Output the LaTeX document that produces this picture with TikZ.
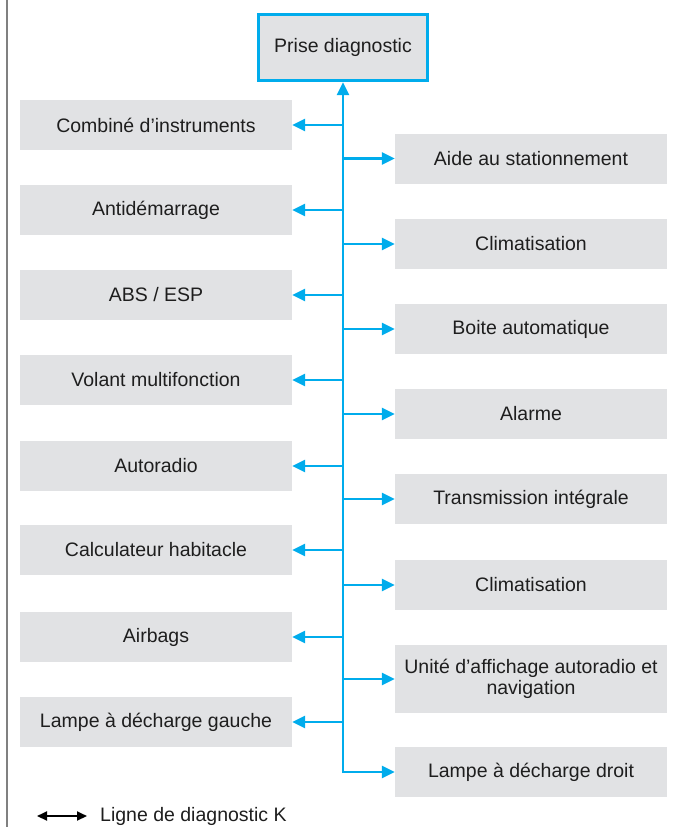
\documentclass[tikz,border=0pt]{standalone}
\usepackage{fontspec}
\setmainfont{Liberation Sans}
\usepackage{xcolor}
\usepackage{tikz}
\usetikzlibrary{arrows.meta,positioning}
\definecolor{linkblue}{RGB}{0,172,236}
\definecolor{ecugray}{RGB}{225,226,228}
\definecolor{framegray}{RGB}{128,128,128}
\definecolor{inkgray}{RGB}{30,30,30}

\begin{document}
\begin{tikzpicture}[
    x=1pt, y=-1pt,
    ecu/.style={rectangle, fill=ecugray, minimum width=272pt, minimum height=50pt, inner sep=0pt, align=center, text=inkgray, font=\fontsize{19.5}{21}\selectfont},
    plug/.style={ecu, draw=linkblue, line width=3.4pt, minimum width=169pt, minimum height=66pt},
    arrow/.style={-{Triangle[length=13pt,width=12pt]}, line width=2.8pt, color=linkblue},
    kline/.style={{Triangle[length=10pt,width=9pt]}-{Triangle[length=10pt,width=9pt]}, line width=2pt, black}
]
\useasboundingbox (0,0) rectangle (676,827);

% Page frame (left edge)
\draw[framegray, line width=2.6pt] (7,0) -- (7,827);

% Diagnostic socket
\node[plug] (prise) at (343,47.5) {Prise diagnostic};

% Control units, left column
\node[ecu] (combi) at (156,125) {Combiné d’instruments};
\node[ecu] (antid) at (156,210) {Antidémarrage};
\node[ecu] (abs) at (156,295) {ABS / ESP};
\node[ecu] (volant) at (156,380) {Volant multifonction};
\node[ecu] (radio) at (156,466) {Autoradio};
\node[ecu] (habit) at (156,550) {Calculateur habitacle};
\node[ecu] (airbag) at (156,637) {Airbags};
\node[ecu] (lampg) at (156,722) {Lampe à décharge gauche};

% Control units, right column
\node[ecu] (parking) at (531,158.5) {Aide au stationnement};
\node[ecu] (clim1) at (531,244) {Climatisation};
\node[ecu] (boite) at (531,329) {Boite automatique};
\node[ecu] (alarme) at (531,414) {Alarme};
\node[ecu] (transm) at (531,499) {Transmission intégrale};
\node[ecu] (clim2) at (531,585) {Climatisation};
\node[ecu, minimum height=68pt] (affich) at (531,679) {Unité d’affichage autoradio et\\navigation};
\node[ecu] (lampd) at (531,772) {Lampe à décharge droit};

% K line (bus)
\coordinate (busend) at (343,773);
\draw[arrow] (busend) -- (prise.south);

% Branches to the units
\draw[arrow] (prise.south |- combi.east) -- (combi.east);
\draw[arrow] (prise.south |- antid.east) -- (antid.east);
\draw[arrow] (prise.south |- abs.east) -- (abs.east);
\draw[arrow] (prise.south |- volant.east) -- (volant.east);
\draw[arrow] (prise.south |- radio.east) -- (radio.east);
\draw[arrow] (prise.south |- habit.east) -- (habit.east);
\draw[arrow] (prise.south |- airbag.east) -- (airbag.east);
\draw[arrow] (prise.south |- lampg.east) -- (lampg.east);
\draw[arrow] (prise.south |- parking.west) -- (parking.west);
\draw[arrow] (prise.south |- clim1.west) -- (clim1.west);
\draw[arrow] (prise.south |- boite.west) -- (boite.west);
\draw[arrow] (prise.south |- alarme.west) -- (alarme.west);
\draw[arrow] (prise.south |- transm.west) -- (transm.west);
\draw[arrow] (prise.south |- clim2.west) -- (clim2.west);
\draw[arrow] (prise.south |- affich.west) -- (affich.west);
\draw[arrow] (prise.south |- lampd.west) -- (lampd.west);

% Legend
\coordinate (kstart) at (37,816);
\coordinate (kend) at (87,816);
\draw[kline] (kstart) -- (kend);
\node[right=13pt of kend, inner sep=0pt, text=inkgray, font=\fontsize{19.5}{21}\selectfont] (klabel) {Ligne de diagnostic K};

\end{tikzpicture}
\end{document}
